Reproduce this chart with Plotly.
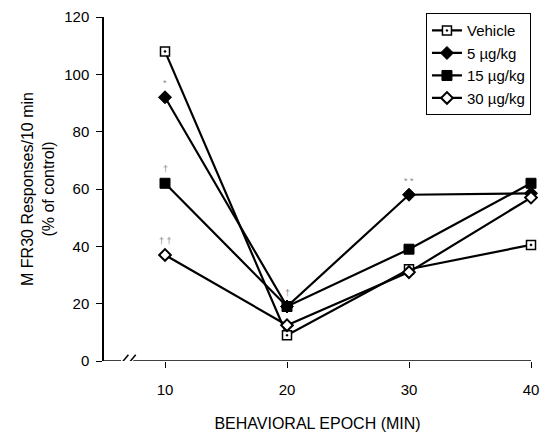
import plotly.graph_objects as go

epochs = [10, 20, 30, 40]
vehicle = [108, 9, 32, 40.5]
dose5 = [92, 19, 58, 58.5]
dose15 = [62, 19, 39, 62]
dose30 = [37, 12.5, 31, 57]

series_names = ["Vehicle", "5 \u00b5g/kg", "15 \u00b5g/kg", "30 \u00b5g/kg"]

# significance marks
sig_x = [10, 10, 10, 30, 20]
sig_y = [92, 62, 37, 58, 19]
sig_text = ["*", "\u2020", "\u2020 \u2020", "* *", "\u2020"]

y_ticks = [0, 20, 40, 60, 80, 100, 120]
x_ticks = [10, 20, 30, 40]

FONT = "Liberation Sans, Arial, sans-serif"

fig = go.Figure()
styles = [
    dict(symbol="square-dot", size=9, color="white", line=dict(color="black", width=1.5)),
    dict(symbol="diamond", size=10, color="black", line=dict(color="black", width=1)),
    dict(symbol="square", size=10, color="black", line=dict(color="black", width=1)),
    dict(symbol="diamond", size=9, color="white", line=dict(color="black", width=2)),
]
for name, vals, st in zip(series_names, [vehicle, dose5, dose15, dose30], styles):
    fig.add_trace(go.Scatter(
        x=epochs, y=vals, name=name, mode="lines+markers",
        line=dict(color="black", width=2.2),
        marker=st, cliponaxis=False,
    ))

for x, y, t in zip(sig_x, sig_y, sig_text):
    fig.add_annotation(x=x, y=y, text=t, showarrow=False, yshift=14,
                       font=dict(size=9, color="#888888", family=FONT))

# axis break marks and broken x-axis line
for x0 in [6.15, 6.75]:
    fig.add_shape(type="line", xref="x", yref="y", x0=x0, x1=x0 + 0.85, y0=-2.2, y1=2.2,
                  line=dict(color="black", width=1.5))
fig.add_shape(type="line", xref="x", yref="y", x0=5, x1=6.4, y0=0, y1=0, line=dict(color="black", width=1.5))
fig.add_shape(type="line", xref="x", yref="y", x0=7.4, x1=40, y0=0, y1=0, line=dict(color="black", width=1.5))

fig.update_layout(
    width=547, height=437,
    margin=dict(l=104, r=8, t=15, b=68),
    paper_bgcolor="white", plot_bgcolor="white",
    font=dict(family=FONT, size=14, color="black"),
    showlegend=True,
    legend=dict(x=0.754, y=1.011, xanchor="left", yanchor="top",
                bordercolor="black", borderwidth=1, bgcolor="white",
                font=dict(size=15), itemwidth=30, tracegroupgap=0,
                entrywidth=72, entrywidthmode="pixels"),
    xaxis=dict(range=[5, 40], tickvals=x_ticks, ticks="outside", ticklen=6,
               tickcolor="black", showgrid=False, zeroline=False, showline=False,
               ticklabelstandoff=9, ticklabeloverflow="allow",
               title=dict(text="BEHAVIORAL EPOCH (MIN)", font=dict(size=16), standoff=20),
               tickfont=dict(size=15)),
    yaxis=dict(range=[0, 120], tickvals=y_ticks, ticks="outside", ticklen=6,
               tickcolor="black", showgrid=False, zeroline=False, showline=True,
               linecolor="black", linewidth=1.5, ticklabelstandoff=4,
               title=dict(text="M FR30 Responses/10 min<br>(% of control)", font=dict(size=16), standoff=6),
               tickfont=dict(size=15)),
)

# remove the default page margin so the 547x437 figure fills the window exactly
fig.write_html(
    "out.html",
    config={"displayModeBar": False},
    post_script="document.body.style.margin='0';document.documentElement.style.overflow='hidden';",
)
